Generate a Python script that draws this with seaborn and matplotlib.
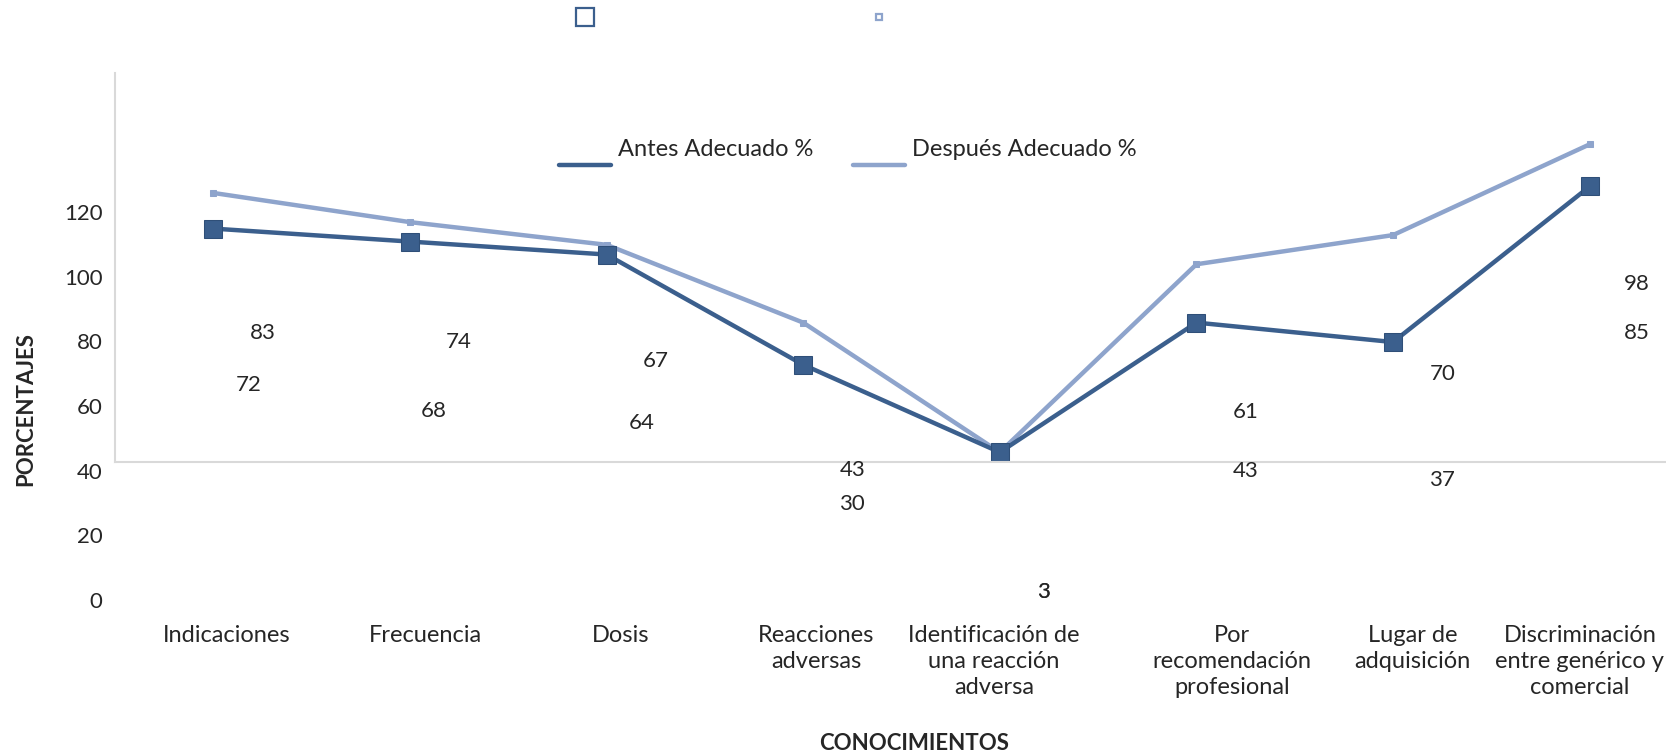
import numpy as np
import pandas as pd
import seaborn as sns
import matplotlib.pyplot as plt
from matplotlib.lines import Line2D

categorias = ['Indicaciones', 'Frecuencia', 'Dosis', 'Reacciones\nadversas',
              'Identificación de\nuna reacción\nadversa', 'Por\nrecomendación\nprofesional',
              'Lugar de\nadquisición', 'Discriminación\nentre genérico y\ncomercial']
antes = [72, 68, 64, 30, 3, 43, 37, 85]
despues = [83, 74, 67, 43, 3, 61, 70, 98]
yticks = [0, 20, 40, 60, 80, 100, 120]

# label nudges (category units / value units) to mimic the original placement
lab_dx = [0.07, 0.08, 0.07, 0.065, -0.03, 0.18, 0.10, -0.05]
desp_dx = [0.25, 0.25, 0.25, 0.25, 0.22, 0.25, 0.25, 0.24]
desp_dy = [-0.4, 5.7, 6.8, -2.7, -0.4, -3.0, -0.2, -0.3]
antes_dx = [0.18, 0.12, 0.18, 0.25, 0.22, 0.25, 0.25, 0.24]
antes_dy = [-5.4, -9.6, -9.2, -0.2, -0.4, -3.0, 0.0, -2.4]

c_antes = '#3b5f8d'
c_desp = '#8ea4cc'

sns.set_style('white')
plt.rcParams['font.family'] = ['Lato', 'DejaVu Sans']
fs = 17      # words
fs_num = 16  # numbers

df = pd.DataFrame({'cat': list(range(len(categorias))) * 2,
                   'valor': antes + despues,
                   'serie': ['Antes Adecuado %'] * 8 + ['Después Adecuado %'] * 8})

fig = plt.figure(figsize=(16.66, 7.52), dpi=100)
W, H = 1666, 752
x0, ax_w = 115, 1573
# axes holding the lines
ax = fig.add_axes([x0 / W, (H - 462) / H, ax_w / W, 389 / H])
# axes holding the (displaced) tick labels and data labels
ax2 = fig.add_axes([x0 / W, (H - 600) / H, ax_w / W, 388 / H])
ax2.patch.set_alpha(0)

sns.lineplot(data=df[df.serie == 'Después Adecuado %'], x='cat', y='valor', ax=ax,
             color=c_desp, linewidth=3.2, marker='s', markersize=4, markeredgecolor=c_desp)
sns.lineplot(data=df[df.serie == 'Antes Adecuado %'], x='cat', y='valor', ax=ax,
             color=c_antes, linewidth=3.2, marker='s', markersize=13, markeredgecolor='#2f4f78')

for a in (ax, ax2):
    a.set_xlim(-0.5, 7.5)
    a.set_ylim(0, 120)
    a.set_xlabel('')
    a.set_ylabel('')
ax.set_xticks([])
ax.set_yticks([])
for s in ['top', 'right']:
    ax.spines[s].set_visible(False)
for s in ['left', 'bottom']:
    ax.spines[s].set_color('#d9d9d9')
    ax.spines[s].set_linewidth(1.5)

for s in ax2.spines.values():
    s.set_visible(False)
ax2.set_yticks(yticks)
ax2.set_yticklabels([str(t) for t in yticks], fontsize=fs_num)
ax2.set_xticks(np.arange(len(categorias)) + np.array(lab_dx))
ax2.set_xticklabels(categorias, fontsize=fs, linespacing=1.3, va='top')
ax2.tick_params(axis='both', length=0)
ax2.tick_params(axis='y', pad=9)
ax2.tick_params(axis='x', pad=18)

for i in range(len(categorias)):
    ax2.text(i + desp_dx[i], despues[i] + desp_dy[i], str(despues[i]),
             ha='center', va='center', fontsize=fs_num)
    ax2.text(i + antes_dx[i], antes[i] + antes_dy[i], str(antes[i]),
             ha='center', va='center', fontsize=fs_num)

fig.text(26 / W, 1 - 409 / H, 'PORCENTAJES', rotation=90, ha='center', va='center',
         fontsize=fs_num, fontweight='bold')
fig.text(914 / W, 1 - 744 / H, 'CONOCIMIENTOS', ha='center', va='center',
         fontsize=fs_num, fontweight='bold')

labels = ['Antes Adecuado %', 'Después Adecuado %']
leg_kw = dict(loc='center', ncol=2, frameon=False, fontsize=fs, handlelength=2.2,
              handletextpad=0.3, columnspacing=1.7, bbox_transform=fig.transFigure)
# legend with lines (lines sit at the text baseline)
h_lines = [Line2D([], [], color=c_antes, linewidth=3.2), Line2D([], [], color=c_desp, linewidth=3.2)]
leg1 = fig.legend(h_lines, labels, bbox_to_anchor=(848 / W, 1 - 150 / H), **leg_kw)
for ln in leg1.get_lines():
    ln.set_ydata(np.full(len(ln.get_xdata()), -6.0))
# stray legend markers at the top
h_marks = [Line2D([], [], linestyle='none', marker='s', markersize=13, markerfacecolor='none',
                  markeredgecolor=c_antes, markeredgewidth=1.6),
           Line2D([], [], linestyle='none', marker='s', markersize=5, markerfacecolor='none',
                  markeredgecolor=c_desp, markeredgewidth=1.6)]
leg2 = fig.legend(h_marks, labels, bbox_to_anchor=(848 / W, 1 - 19 / H), **leg_kw)
for t in leg2.get_texts():
    t.set_color('none')

fig.savefig('out.png', dpi=100)
